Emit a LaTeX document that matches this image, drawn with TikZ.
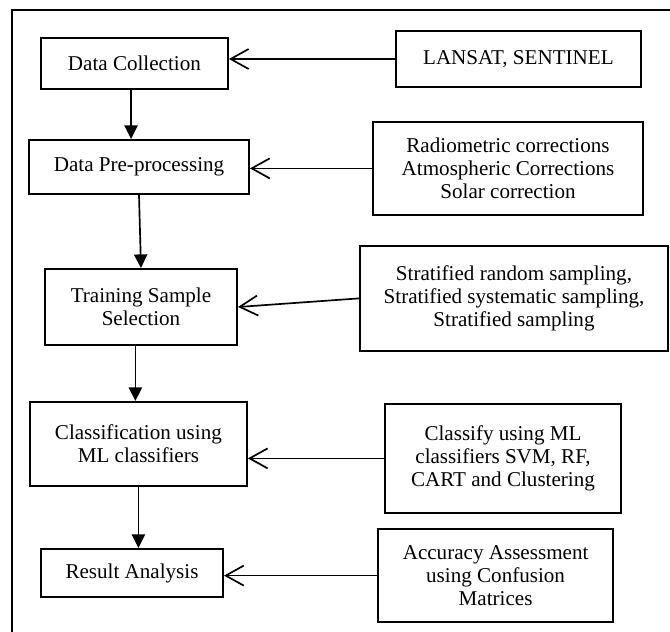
\documentclass[tikz,border=0pt]{standalone}
\usepackage{fontspec}
\setmainfont{Liberation Serif}
\usepackage{tikz}
\usetikzlibrary{arrows.meta}

\begin{document}
\begin{tikzpicture}[
  stage/.style={draw, line width=1.4pt, align=center, inner sep=2pt,
    font=\fontsize{15}{16.6}\selectfont},
  flow/.style={line width=1.2pt, -{Triangle[length=3.4mm, width=3.3mm]}},
  feed/.style={line width=1.2pt, -{Straight Barb[length=4.5mm, width=5mm, line width=1.2pt]}}
]
\clip (0,0) rectangle (16.75,15.8);
\draw[line width=1.5pt] (17,15.55) -- (0.3,15.55) -- (0.3,-0.5);

% main steps
\node[stage, minimum width=4.675cm, minimum height=1.275cm] (dc) at (3.36,14.21) {Data Collection};
\node[stage, minimum width=5.5cm, minimum height=1.35cm] (dpp) at (3.475,11.625) {Data Pre-processing};
\node[stage, minimum width=4.8cm, minimum height=1.9cm] (tss) at (3.525,8.125) {Training Sample\\Selection};
\node[stage, minimum width=5.425cm, minimum height=2.1cm] (cls) at (3.46,4.70) {Classification using\\ML classifiers};
\node[stage, minimum width=4.55cm, minimum height=1.2cm] (ra) at (3.30,1.475) {Result Analysis};

% inputs
\node[stage, minimum width=6.125cm, minimum height=1.4cm] (sat) at (12.96,14.325) {LANSAT, SENTINEL};
\node[stage, minimum width=6.75cm, minimum height=2.325cm] (corr) at (12.70,11.59) {Radiometric corrections\\Atmospheric Corrections\\Solar correction};
\node[stage, minimum width=7.7cm, minimum height=2.625cm] (samp) at (12.85,8.34) {Stratified random sampling,\\Stratified systematic sampling,\\Stratified sampling};
\node[stage, minimum width=5.9cm, minimum height=2.725cm] (clf) at (12.575,4.34) {Classify using ML\\classifiers SVM, RF,\\CART and Clustering};
\node[stage, minimum width=5.875cm, minimum height=2.325cm] (acc) at (12.39,1.41) {Accuracy Assessment\\using Confusion\\Matrices};

\draw[flow] ([xshift=-2.4pt]dc.south) -- ([xshift=-2.4pt]dc.south |- dpp.north);
\draw[flow] (dpp.south) -- (tss.north);
\draw[flow] ([xshift=-4pt]tss.south) -- ([xshift=-4pt]tss.south |- cls.north);
\draw[flow] (cls.south) -- (cls.south |- ra.north);

\draw[feed] (sat.west) -- (sat.west -| dc.east);
\draw[feed] (corr.west) -- (corr.west -| dpp.east);
\draw[feed] (samp.west) -- (tss.east);
\draw[feed] (clf.west) -- (clf.west -| cls.east);
\draw[feed] (acc.west) -- (acc.west -| ra.east);
\end{tikzpicture}
\end{document}
